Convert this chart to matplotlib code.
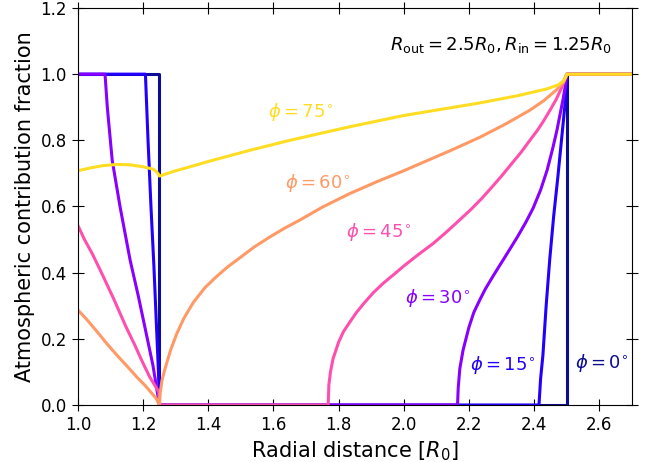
import numpy as np
import matplotlib
matplotlib.use('Agg')
import matplotlib.pyplot as plt

# values
phis = [0, 15, 30, 45, 60, 75]
colors = ['#0c0c94', '#2200ff', '#8800ff', '#ff4fae', '#ff9966', '#ffdd22']

x_0 = [1.0, 1.25, 1.25, 2.5, 2.5, 2.7]
y_0 = [1.0, 1.0, 0.0, 0.0, 1.0, 1.0]

x_15 = [1.0, 1.207, 1.215, 1.224, 1.233, 1.241, 1.247, 1.25,
        2.415, 2.42, 2.427, 2.437, 2.448, 2.46, 2.473, 2.485, 2.494, 2.5, 2.7]
y_15 = [1.0, 1.0, 0.8, 0.6, 0.42, 0.237, 0.1, 0.0,
        0.0, 0.08, 0.15, 0.3, 0.44, 0.57, 0.69, 0.81, 0.9, 1.0, 1.0]

x_30 = [1.0, 1.083, 1.09, 1.105, 1.129, 1.16, 1.185, 1.205, 1.23, 1.25,
        2.165, 2.167, 2.172, 2.182, 2.2, 2.215, 2.233, 2.25, 2.27, 2.29, 2.306, 2.33, 2.35,
        2.375, 2.397, 2.42, 2.44, 2.457, 2.47, 2.48, 2.489, 2.495, 2.5, 2.7]
y_30 = [1.0, 1.0, 0.9, 0.74, 0.6, 0.438, 0.33, 0.237, 0.12, 0.0,
        0.0, 0.05, 0.11, 0.166, 0.235, 0.28, 0.317, 0.35, 0.383, 0.415, 0.44, 0.478, 0.51,
        0.553, 0.595, 0.65, 0.71, 0.775, 0.83, 0.88, 0.925, 0.96, 1.0, 1.0]

x_45 = [1.0, 1.02, 1.045, 1.073, 1.11, 1.147, 1.175, 1.195, 1.22, 1.248, 1.25,
        1.768, 1.77, 1.775, 1.783, 1.8, 1.815, 1.834, 1.855, 1.88, 1.907, 1.937, 1.97, 2.0,
        2.045, 2.09, 2.13, 2.17, 2.205, 2.24, 2.27, 2.3, 2.33, 2.361, 2.387, 2.41, 2.43,
        2.45, 2.468, 2.485, 2.5, 2.7]
y_45 = [0.542, 0.5, 0.455, 0.398, 0.32, 0.237, 0.18, 0.136, 0.085, 0.04, 0.0,
        0.0, 0.06, 0.1, 0.14, 0.19, 0.222, 0.25, 0.28, 0.31, 0.34, 0.368, 0.395, 0.42,
        0.455, 0.488, 0.522, 0.558, 0.59, 0.625, 0.658, 0.692, 0.728, 0.765, 0.8, 0.83, 0.86,
        0.893, 0.924, 0.96, 1.0, 1.0]

x_60 = [1.0, 1.03, 1.06, 1.088, 1.12, 1.15, 1.18, 1.205, 1.226, 1.24, 1.25,
        1.252, 1.258, 1.265, 1.272, 1.285, 1.303, 1.325, 1.354, 1.39, 1.425, 1.46, 1.497,
        1.54, 1.589, 1.635, 1.681, 1.75, 1.834, 1.92, 2.0, 2.07, 2.141, 2.233, 2.31, 2.387,
        2.43, 2.468, 2.49, 2.5, 2.7]
y_60 = [0.287, 0.255, 0.22, 0.186, 0.15, 0.118, 0.085, 0.06, 0.036, 0.02, 0.0,
        0.035, 0.075, 0.102, 0.126, 0.168, 0.215, 0.262, 0.31, 0.355, 0.388, 0.418, 0.445,
        0.477, 0.508, 0.535, 0.559, 0.598, 0.639, 0.676, 0.708, 0.738, 0.768, 0.809, 0.848,
        0.891, 0.92, 0.952, 0.975, 1.0, 1.0]

x_75 = [1.0, 1.04, 1.08, 1.12, 1.16, 1.2, 1.23, 1.24, 1.246, 1.25,
        1.3, 1.344, 1.4, 1.528, 1.65, 1.834, 2.0, 2.233, 2.35, 2.438, 2.475, 2.489,
        2.497, 2.5, 2.7]
y_75 = [0.708, 0.717, 0.724, 0.727, 0.726, 0.72, 0.713, 0.706, 0.699, 0.692,
        0.708, 0.72, 0.736, 0.77, 0.80, 0.841, 0.875, 0.913, 0.935, 0.955, 0.968, 0.979,
        0.99, 1.0, 1.0]

curves_x = [x_0, x_15, x_30, x_45, x_60, x_75]
curves_y = [y_0, y_15, y_30, y_45, y_60, y_75]

# label positions (lower-left corner of text)
label_x = [2.525, 2.202, 2.003, 1.822, 1.635, 1.583]
label_y = [0.126, 0.121, 0.322, 0.524, 0.67, 0.886]

fig = plt.figure(figsize=(6.57, 4.62), dpi=100)
ax = fig.add_axes([0.1187, 0.1234, 0.843, 0.8593])

for xs, ys, c in zip(curves_x, curves_y, colors):
    ax.plot(xs, ys, color=c, lw=2.2)

for phi, lx, ly, c in zip(phis, label_x, label_y, colors):
    ax.text(lx, ly, r'$\phi = %d^{\circ}$' % phi, color=c, fontsize=13,
            ha='left', va='center')

ax.text(2.64, 1.088, r'$R_{\rm out} = 2.5R_0, R_{\rm in} = 1.25R_0$',
        fontsize=13, ha='right', va='center')

ax.set_xlim(1.0, 2.7)
ax.set_ylim(0.0, 1.2)
ax.set_xticks(np.arange(1.0, 2.61, 0.2))
ax.set_yticks(np.arange(0.0, 1.21, 0.2))
ax.tick_params(direction='inout', length=9, labelsize=12, top=True, right=True)
ax.set_xlabel(r'Radial distance [$R_0$]', fontsize=15)
ax.set_ylabel('Atmospheric contribution fraction', fontsize=15)

fig.savefig('out.png', dpi=100)
